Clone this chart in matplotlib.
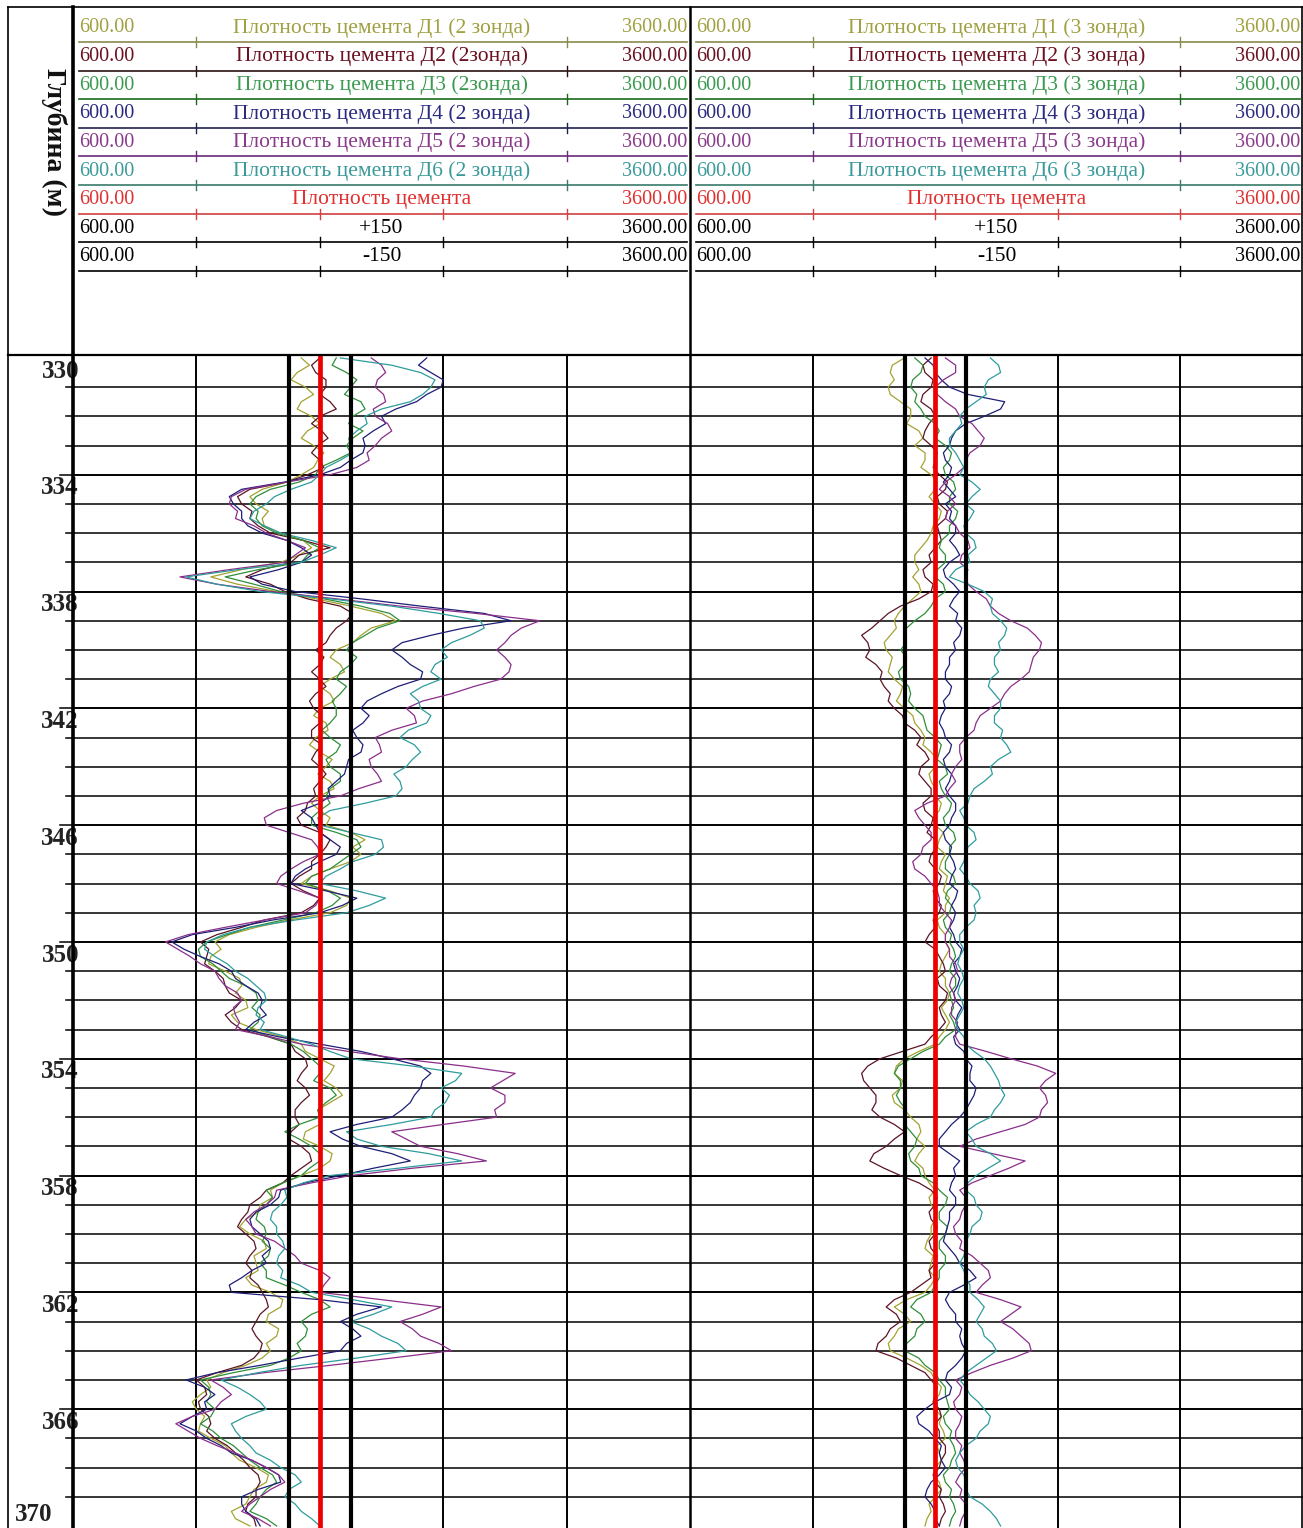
import matplotlib
matplotlib.use('Agg')
import matplotlib.pyplot as plt
import numpy as np

plt.rcParams['font.family'] = ['Liberation Serif', 'DejaVu Serif']

# глубина, шаг 0.25 м
depth = np.arange(330.0, 370.001, 0.25)

# 2 зонда
d1_z2 = [1710,1750,1690,1660,1730,1770,1710,1690,1760,1800,1740,1710,1770,1820,1790,1770,1710,1640,1520,1460,
         1490,1550,1520,1530,1610,1720,1760,1700,1610,1420,1270,1400,1590,1780,1950,2100,2170,2050,2000,1960,
         1880,1850,1900,1920,1850,1800,1850,1870,1800,1770,1830,1840,1780,1750,1800,1860,1830,1790,1850,1870,
         1800,1760,1800,1850,1830,1950,2020,1960,2000,1950,1850,1760,1710,1850,1950,1930,1850,1650,1490,1360,
         1290,1320,1270,1260,1340,1410,1420,1390,1440,1450,1370,1400,1490,1620,1710,1730,1800,1870,1850,1820,
         1880,1910,1850,1790,1800,1800,1730,1720,1800,1860,1850,1800,1710,1620,1560,1570,1510,1500,1440,1410,
         1460,1530,1540,1480,1490,1500,1440,1470,1560,1620,1610,1550,1540,1600,1590,1540,1560,1520,1440,1330,
         1250,1270,1220,1180,1200,1240,1220,1210,1270,1340,1370,1410,1490,1550,1540,1480,1460,1440,1370,1390,
         1460]
d2_z2 = [1800,1760,1780,1830,1830,1800,1850,1880,1800,1760,1810,1840,1790,1760,1800,1820,1740,1640,1460,1400,
         1420,1470,1460,1500,1560,1720,1850,1700,1660,1520,1440,1560,1630,1740,1900,1960,1930,1880,1850,1830,
         1780,1820,1800,1760,1800,1830,1780,1750,1770,1810,1800,1760,1760,1810,1780,1760,1800,1830,1800,1770,
         1780,1740,1730,1690,1710,1800,1850,1830,1800,1760,1760,1700,1660,1720,1800,1770,1710,1530,1420,1300,
         1220,1260,1250,1240,1290,1330,1340,1360,1420,1390,1340,1370,1420,1550,1660,1680,1730,1740,1710,1690,
         1730,1750,1710,1680,1680,1700,1660,1650,1710,1750,1760,1710,1660,1620,1540,1510,1460,1450,1420,1400,
         1440,1480,1490,1460,1440,1470,1460,1500,1520,1540,1550,1510,1490,1470,1490,1520,1510,1480,1420,1300,
         1200,1240,1250,1210,1220,1260,1270,1250,1290,1350,1390,1430,1460,1500,1510,1490,1490,1450,1440,1480,
         1490]
d3_z2 = [1880,1860,1930,1980,1950,1920,2000,2020,1960,1940,2010,1960,1930,1950,1880,1800,1780,1700,1560,1490,
         1460,1500,1490,1520,1590,1720,1800,1740,1710,1500,1340,1480,1610,1820,2000,2140,2190,2080,2020,1960,
         1930,1980,1950,1900,1880,1930,1900,1860,1880,1880,1850,1810,1850,1900,1880,1830,1850,1900,1900,1850,
         1830,1850,1800,1760,1760,1880,1980,2000,1950,1900,1850,1760,1730,1840,1900,1860,1780,1620,1460,1350,
         1250,1210,1220,1280,1320,1360,1440,1490,1500,1470,1510,1500,1460,1560,1660,1720,1760,1800,1800,1770,
         1850,1880,1830,1790,1800,1700,1630,1700,1760,1800,1800,1750,1710,1620,1540,1570,1540,1500,1490,1530,
         1540,1520,1560,1550,1510,1540,1540,1630,1710,1800,1850,1760,1710,1740,1730,1690,1710,1650,1560,1380,
         1220,1260,1270,1250,1290,1270,1220,1280,1320,1380,1420,1460,1510,1570,1590,1540,1510,1490,1460,1540,
         1590]
d4_z2 = [2320,2280,2340,2400,2390,2320,2270,2170,2100,2120,2060,2010,2020,2010,1950,1900,1800,1630,1420,1360,
         1380,1420,1420,1450,1520,1640,1710,1760,1710,1600,1460,1520,1680,2000,2290,2600,2730,2500,2340,2200,
         2150,2200,2240,2300,2290,2180,2100,2030,2000,2040,2010,1960,1980,2010,2000,1940,1930,1920,1880,1840,
         1850,1800,1710,1760,1780,1800,1850,1900,1880,1800,1730,1680,1660,1830,1980,1910,1800,1570,1390,1180,
         1080,1140,1220,1310,1370,1390,1440,1500,1520,1510,1540,1480,1440,1600,1800,2000,2150,2290,2340,2300,
         2290,2260,2240,2200,2150,1980,1850,1910,2000,2150,2240,2060,1900,1730,1610,1600,1560,1490,1460,1470,
         1510,1550,1560,1520,1540,1470,1420,1360,1370,1800,2100,1980,1900,1960,2000,1930,1900,1700,1510,1300,
         1150,1240,1290,1240,1250,1180,1120,1200,1250,1320,1370,1470,1540,1600,1610,1500,1420,1420,1440,1490,
         1510]
d5_z2 = [2050,2100,2120,2080,2070,2110,2120,2060,2070,2130,2150,2100,2070,2030,2040,1980,1850,1640,1440,1370,
         1360,1400,1390,1480,1540,1640,1730,1680,1630,1360,1120,1300,1560,1880,2190,2560,2870,2780,2730,2700,
         2660,2700,2730,2720,2680,2550,2440,2300,2220,2260,2270,2150,2070,2090,2100,2040,2050,2080,2100,1990,
         1900,1720,1590,1530,1540,1650,1760,1790,1800,1720,1660,1610,1590,1700,1800,1780,1730,1530,1340,1160,
         1050,1110,1170,1220,1290,1310,1340,1400,1420,1380,1390,1410,1390,1560,1710,1940,2190,2500,2750,2690,
         2630,2700,2700,2650,2660,2400,2150,2220,2290,2470,2610,2250,1950,1760,1590,1580,1540,1480,1440,1470,
         1490,1580,1630,1680,1710,1800,1850,1820,1800,2100,2390,2300,2190,2250,2290,2380,2440,2150,1850,1530,
         1270,1330,1370,1320,1290,1180,1100,1160,1220,1300,1390,1470,1540,1600,1630,1560,1510,1460,1420,1500,
         1560]
d6_z2 = [1900,2150,2290,2360,2340,2300,2240,2100,2020,2030,1980,1940,1950,1960,1900,1830,1800,1760,1660,1580,
         1540,1480,1460,1530,1610,1760,1880,1800,1710,1400,1150,1300,1510,1850,2150,2380,2580,2600,2530,2440,
         2390,2420,2360,2340,2390,2300,2240,2280,2290,2340,2320,2230,2190,2260,2290,2250,2220,2160,2190,2200,
         2170,2020,1850,1790,1800,1950,2100,2110,2070,1960,1900,1830,1800,1980,2120,2040,1930,1680,1460,1330,
         1250,1240,1290,1350,1390,1450,1490,1530,1540,1500,1490,1530,1510,1640,1760,1850,1950,2250,2490,2460,
         2390,2430,2410,2360,2340,2150,1930,1980,2100,2330,2490,2180,1850,1720,1630,1640,1610,1570,1560,1590,
         1590,1620,1630,1600,1590,1620,1610,1700,1760,1960,2150,2060,1950,2040,2100,2180,2220,1980,1710,1500,
         1320,1400,1460,1510,1540,1440,1370,1390,1420,1460,1490,1560,1610,1680,1710,1650,1630,1680,1710,1760,
         1800]

# 3 зонда
d1_z3 = [1650,1590,1580,1600,1570,1580,1630,1680,1680,1660,1720,1740,1700,1750,1750,1730,1780,1810,1800,1770,
         1800,1830,1820,1790,1780,1760,1730,1700,1700,1720,1690,1720,1730,1690,1650,1620,1600,1610,1580,1550,
         1560,1590,1580,1570,1600,1640,1630,1610,1650,1690,1700,1730,1750,1740,1780,1810,1800,1770,1780,1800,
         1800,1830,1820,1790,1800,1840,1820,1810,1850,1830,1820,1860,1850,1840,1870,1850,1850,1810,1820,1850,
         1850,1870,1850,1830,1820,1850,1850,1870,1860,1830,1850,1870,1850,1820,1800,1720,1650,1610,1600,1640,
         1630,1590,1600,1650,1680,1720,1730,1710,1750,1720,1700,1740,1750,1770,1800,1770,1780,1810,1800,1780,
         1780,1760,1750,1790,1780,1770,1800,1780,1750,1660,1600,1650,1680,1620,1600,1570,1580,1660,1730,1780,
         1800,1830,1820,1790,1800,1830,1820,1840,1850,1810,1820,1830,1800,1790,1820,1830,1800,1770,1780,1760,
         1750]
d2_z3 = [1780,1740,1750,1790,1780,1740,1730,1780,1800,1770,1750,1740,1780,1810,1800,1790,1820,1860,1850,1810,
         1820,1860,1850,1810,1820,1830,1800,1770,1780,1740,1750,1790,1780,1720,1630,1570,1530,1490,1440,1470,
         1480,1460,1510,1540,1530,1550,1580,1570,1600,1640,1650,1700,1730,1710,1750,1770,1730,1720,1750,1780,
         1780,1740,1750,1790,1780,1760,1800,1810,1780,1770,1800,1830,1820,1790,1800,1830,1820,1790,1800,1770,
         1750,1800,1820,1840,1850,1810,1820,1860,1850,1820,1830,1850,1820,1780,1750,1640,1530,1470,1440,1450,
         1480,1510,1510,1490,1530,1600,1650,1600,1560,1500,1480,1550,1630,1720,1780,1810,1800,1770,1780,1810,
         1800,1770,1780,1810,1800,1770,1780,1730,1680,1600,1560,1610,1630,1580,1560,1520,1510,1610,1680,1750,
         1780,1810,1800,1790,1820,1830,1800,1820,1820,1850,1850,1830,1820,1790,1800,1830,1820,1840,1850,1830,
         1820]
d3_z3 = [1700,1740,1730,1690,1680,1710,1700,1730,1750,1800,1820,1800,1850,1880,1870,1840,1850,1890,1900,1870,
         1870,1910,1900,1870,1870,1830,1820,1850,1850,1810,1800,1840,1850,1800,1780,1750,1700,1660,1650,1660,
         1630,1660,1650,1620,1630,1670,1680,1670,1700,1740,1750,1760,1800,1830,1820,1810,1850,1860,1820,1830,
         1850,1880,1870,1840,1850,1890,1900,1870,1870,1850,1850,1890,1900,1860,1850,1880,1870,1840,1850,1880,
         1870,1890,1900,1880,1870,1900,1900,1870,1880,1890,1870,1890,1900,1850,1820,1740,1680,1620,1600,1630,
         1630,1610,1630,1660,1650,1650,1680,1710,1700,1670,1680,1720,1730,1790,1820,1860,1850,1820,1820,1860,
         1850,1820,1820,1850,1850,1820,1820,1800,1780,1710,1680,1730,1750,1710,1700,1660,1650,1720,1750,1800,
         1820,1850,1850,1860,1870,1840,1850,1880,1870,1890,1900,1880,1870,1840,1850,1880,1870,1890,1900,1880,
         1870]
d4_z3 = [1750,1790,1800,1830,1870,1960,2140,2120,2040,1950,1900,1880,1870,1840,1850,1880,1870,1840,1870,1900,
         1850,1880,1870,1900,1900,1870,1900,1920,1870,1840,1850,1890,1920,1890,1870,1910,1900,1930,1920,1890,
         1900,1870,1870,1850,1850,1880,1870,1840,1850,1830,1820,1840,1850,1880,1870,1840,1850,1880,1870,1850,
         1870,1900,1900,1880,1870,1840,1850,1880,1870,1890,1900,1880,1870,1910,1900,1880,1900,1890,1870,1890,
         1900,1930,1920,1890,1900,1920,1910,1890,1900,1930,1910,1900,1920,1890,1900,1940,1950,1980,1970,1970,
         2000,1990,1970,1950,1920,1880,1850,1820,1820,1870,1920,1890,1900,1880,1870,1900,1900,1870,1870,1860,
         1850,1840,1870,1900,1920,1970,2000,1940,1870,1850,1870,1900,1900,1930,1920,1930,1950,1930,1900,1860,
         1850,1880,1870,1800,1750,1710,1720,1770,1800,1830,1820,1830,1850,1820,1780,1760,1750,1780,1800,1800,
         1820]
d5_z3 = [1850,1900,1900,1840,1800,1810,1850,1900,1920,1980,2010,2040,2020,1970,1950,1940,1900,1850,1820,1870,
         1900,1860,1850,1900,1920,1960,1970,1930,1920,1960,1950,1960,2000,2050,2070,2110,2170,2250,2290,2320,
         2310,2280,2270,2260,2220,2170,2140,2120,2070,2020,2000,1990,1950,1920,1920,1930,1900,1880,1900,1870,
         1850,1760,1700,1720,1750,1780,1780,1740,1730,1690,1700,1750,1780,1810,1820,1820,1850,1880,1870,1850,
         1850,1870,1870,1900,1910,1880,1870,1890,1900,1880,1880,1910,1900,1900,1920,2050,2170,2300,2390,2340,
         2310,2340,2350,2320,2310,2240,2120,2000,1920,2080,2240,2160,2070,1980,1920,1950,1950,1930,1920,1890,
         1900,1930,1920,1980,2020,2060,2070,2030,2000,2120,2220,2170,2120,2180,2220,2260,2270,2180,2070,1980,
         1900,1930,1920,1890,1900,1930,1920,1900,1900,1930,1920,1940,1950,1920,1900,1930,1920,1950,1950,1930,
         1920]
d6_z3 = [2070,2110,2120,2060,2040,2050,2000,1950,1920,1930,1900,1870,1870,1900,1920,1940,1920,1980,2020,1980,
         1950,1990,1970,1940,1950,1990,2000,1960,1970,1900,1870,1960,2040,2080,2070,2080,2120,2150,2140,2110,
         2120,2090,2090,2110,2070,2060,2090,2120,2120,2090,2090,2130,2120,2150,2170,2110,2070,2080,2040,1990,
         1970,1960,1920,1940,1950,1990,2000,1960,1950,1940,1920,1950,1970,2010,2020,1990,2000,1990,1950,1920,
         1920,1940,1920,1910,1930,1940,1920,1910,1930,1940,1920,1900,1910,1940,1950,1990,2040,2070,2090,2110,
         2120,2140,2120,2090,2070,2000,1950,1980,2000,2070,2120,2060,2000,1960,1950,1990,2000,2030,2020,1980,
         1970,1950,1950,1940,1920,1940,1950,1970,1970,2010,2040,2020,2000,2030,2040,2080,2100,2050,2000,1950,
         1920,1950,1970,2010,2040,2070,2060,2020,2000,1950,1920,1900,1910,1940,1950,1950,1970,2030,2070,2100,
         2120]

cement = 1800
band = 150
scale_min, scale_max = 600, 3600

curve_colors = ['#a3a332', '#5c1424', '#2f8f3a', '#1e1e78', '#8a2e8a', '#2f9c9c']
text_colors = ['#a0a040', '#6a1020', '#3a9a50', '#2a2a80', '#8a3a8a', '#3a9a9a', '#e03030', 'black', 'black']
head_line_colors = ['#8a8a4a', '#2a1010', '#1a6a1a', '#202050', '#6a2a7a', '#3a7a6a', '#d04040', 'black', 'black']

titles_z2 = ['Плотность цемента Д1 (2 зонда)', 'Плотность цемента Д2 (2зонда)',
             'Плотность цемента Д3 (2зонда)', 'Плотность цемента Д4 (2 зонда)',
             'Плотность цемента Д5 (2 зонда)', 'Плотность цемента Д6 (2 зонда)',
             'Плотность цемента', '+150', '-150']
titles_z3 = ['Плотность цемента Д1 (3 зонда)', 'Плотность цемента Д2 (3 зонда)',
             'Плотность цемента Д3 (3 зонда)', 'Плотность цемента Д4 (3 зонда)',
             'Плотность цемента Д5 (3 зонда)', 'Плотность цемента Д6 (3 зонда)',
             'Плотность цемента', '+150', '-150']

W, H = 1303, 1528
fig = plt.figure(figsize=(W / 100, H / 100), dpi=100)


def rect(x0, y0, x1, y1):
    return [x0 / W, 1 - y1 / H, (x1 - x0) / W, (y1 - y0) / H]


top_d, bot_d = 329.9, 370.07
tracks = [(73, 690, [d1_z2, d2_z2, d3_z2, d4_z2, d5_z2, d6_z2], titles_z2),
          (690, 1303, [d1_z3, d2_z3, d3_z3, d4_z3, d5_z3, d6_z3], titles_z3)]

for x0, x1, curves, titles in tracks:
    ax = fig.add_axes(rect(x0, 355, x1, H))
    ax.set_xlim(scale_min, scale_max)
    ax.set_ylim(bot_d, top_d)
    ax.set_xticks([])
    ax.set_yticks([])
    for s in ax.spines.values():
        s.set_visible(False)
    for v in [1200, 2400, 3000]:
        ax.axvline(v, color='black', lw=1.4, zorder=1)
    for d in range(331, 370):
        ax.axhline(d, color='black', lw=1.4 if d % 4 == 2 else 1.1, zorder=1)
    for vals, c in zip(curves, curve_colors):
        ax.plot(vals, depth, color=c, lw=0.9, zorder=2)
    ax.axvline(cement - band, color='black', lw=3.0, zorder=3)
    ax.axvline(cement + band, color='black', lw=3.0, zorder=3)
    ax.axvline(cement, color='#ee0000', lw=3.4, zorder=4)

# колонка глубин
axd = fig.add_axes(rect(8, 355, 73, H))
axd.set_xlim(8, 73)
axd.set_ylim(bot_d, top_d)
axd.axis('off')
for d in range(331, 370):
    x_start = 60 if d % 4 == 2 else 66
    axd.plot([x_start, 73], [d, d], color='black', lw=1.1)
for d in range(330, 370, 4):
    axd.text(79, d + 0.45, str(d), ha='right', va='center', fontsize=18,
             fontweight='bold', color='#222222', clip_on=False)
axd.text(15, 369.6, '370', ha='left', va='center', fontsize=18,
         fontweight='bold', color='#222222')

# шапка и рамки
ax0 = fig.add_axes([0, 0, 1, 1], zorder=10)
ax0.set_xlim(0, W)
ax0.set_ylim(H, 0)
ax0.axis('off')
ax0.patch.set_visible(False)

ax0.plot([8, W], [7, 7], color='black', lw=1.2)
ax0.plot([8, 8], [7, H], color='black', lw=1.2)
ax0.plot([W - 1, W - 1], [7, H], color='black', lw=1.2)
ax0.plot([8, W], [355, 355], color='black', lw=1.6)
ax0.plot([73, 73], [7, H], color='black', lw=2.6)
ax0.plot([690, 690], [7, H], color='black', lw=1.8)

ax0.text(54, 142, 'Глубина (м)', rotation=-90, ha='center', va='center',
         fontsize=20, fontweight='bold', color='#111111')

for x0, x1, curves, titles in tracks:
    tw = x1 - x0
    for i, title in enumerate(titles):
        yt = 28 + i * 28.6
        yl = 42 + i * 28.6
        ax0.text(x0 + 6, yt, '600.00', ha='left', va='center', fontsize=14.5,
                 color=text_colors[i])
        ax0.text(x1 - 3, yt, '3600.00', ha='right', va='center', fontsize=14.5,
                 color=text_colors[i])
        ax0.text(x0 + tw * 0.5, yt, title, ha='center', va='center', fontsize=15.5,
                 color=text_colors[i])
        ax0.plot([x0 + 6, x1 - 3], [yl, yl], color=head_line_colors[i], lw=1.2)
        ticks = [1, 4] if i < 6 else [1, 2, 3, 4]
        for k in ticks:
            xt = x0 + tw * k / 5
            ax0.plot([xt, xt], [yl - 5, yl + 5], color=head_line_colors[i], lw=1.0)

fig.savefig('out.png', dpi=100)
